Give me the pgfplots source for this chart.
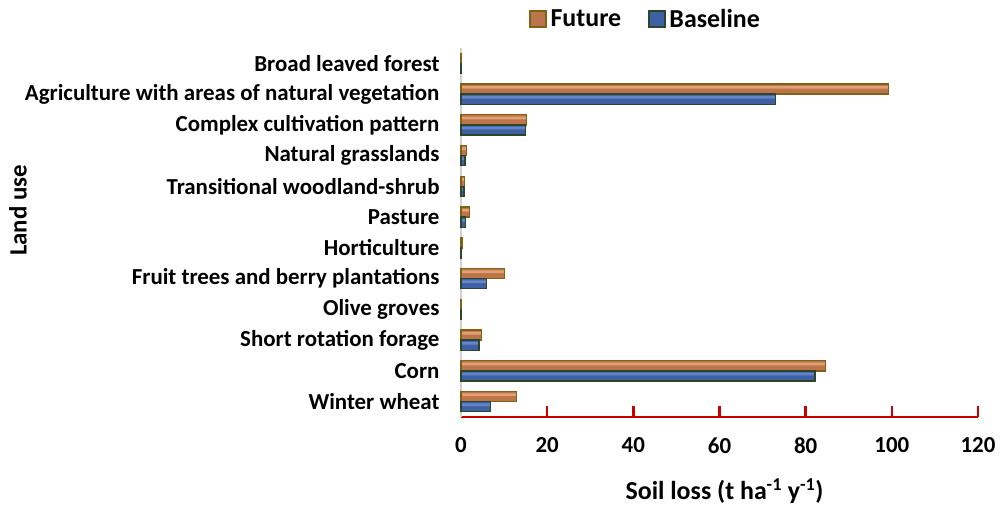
\documentclass[border=0pt]{standalone}
\usepackage{pgfplots}
\pgfplotsset{compat=1.18}
\usepackage{fontspec}
\setmainfont{Carlito}
\definecolor{futmid}{RGB}{188,116,74}
\definecolor{futlight}{RGB}{226,160,116}
\definecolor{futdraw}{RGB}{128,98,22}
\definecolor{basmid}{RGB}{64,96,164}
\definecolor{baslight}{RGB}{100,134,200}
\definecolor{basdraw}{RGB}{44,70,44}
\definecolor{axred}{RGB}{200,0,0}
\definecolor{axgray}{RGB}{210,210,210}
\pgfplotstableread{
y fut bas
0 12.9 6.9
1 84.6 82.2
2 4.7 4.2
3 0.15 0.1
4 10.1 6.0
5 0.4 0.15
6 2.0 1.0
7 0.8 0.7
8 1.3 0.9
9 15.2 15.0
10 99.3 73.0
11 0.1 0.05
}\datatable
\begin{document}
\begin{tikzpicture}
\begin{axis}[
  scale only axis,
  width=517bp, height=369bp,
  xmin=0, xmax=120, ymin=-0.5, ymax=11.5,
  xtick={0,20,...,120},
  ytick={0,...,11},
  yticklabels={Winter wheat,Corn,Short rotation forage,Olive groves,Fruit trees and berry plantations,Horticulture,Pasture,Transitional woodland-shrub,Natural grasslands,Complex cultivation pattern,Agriculture with areas of natural vegetation,Broad leaved forest},
  axis x line*=bottom,
  axis y line*=left,
  x axis line style={draw=axred, line width=2.5bp, -},
  y axis line style={draw=axgray, line width=1.2bp, -},
  xtick style={draw=axred, line width=2.4bp},
  ytick style={draw=none},
  tick align=inside,
  major tick length=11bp,
  /pgf/number format/assume math mode=true,
  ticklabel style={font=\fontsize{23}{27}\selectfont\bfseries},
  yticklabel style={xshift=-18bp},
  xticklabel style={yshift=-17bp},
  xlabel={Soil loss (t ha\textsuperscript{-1} y\textsuperscript{-1})},
  xlabel style={font=\fontsize{26}{31}\selectfont\bfseries, yshift=-18bp, xshift=5bp},
  ylabel={Land use},
  ylabel style={font=\fontsize{25}{30}\selectfont\bfseries, at={(axis description cs:-0.857,0.56)}, anchor=center, rotate=0},
  legend style={at={(0.357,1)}, anchor=south, yshift=15bp, draw=none, fill=none,
    legend columns=2, font=\fontsize{26}{31}\selectfont\bfseries,
    /tikz/every even column/.append style={column sep=25bp},
    /tikz/every odd column/.append style={column sep=2bp}},
  legend image code/.code={\draw[#1, line width=1.3bp] (0bp,-8bp) rectangle (16bp,8bp);},
  clip=false,
]
% Future
\addplot[xbar, bar width=0.33, bar shift=0.165, fill=futmid, draw=futdraw, line width=1.3bp] table[x=fut, y=y] {\datatable};
\addlegendentry{Future}
\addplot[xbar, forget plot, bar width=0.09, bar shift=0.225, fill=futlight, draw=none] table[x=fut, y=y] {\datatable};
\addplot[xbar, forget plot, bar width=0.33, bar shift=0.165, fill=none, draw=futdraw, line width=1.3bp] table[x=fut, y=y] {\datatable};
% Baseline
\addplot[xbar, bar width=0.33, bar shift=-0.165, fill=basmid, draw=basdraw, line width=1.3bp] table[x=bas, y=y] {\datatable};
\addlegendentry{Baseline}
\addplot[xbar, forget plot, bar width=0.09, bar shift=-0.105, fill=baslight, draw=none] table[x=bas, y=y] {\datatable};
\addplot[xbar, forget plot, bar width=0.33, bar shift=-0.165, fill=none, draw=basdraw, line width=1.3bp] table[x=bas, y=y] {\datatable};
\end{axis}
\pgfresetboundingbox
\path[use as bounding box] (-461bp,-88bp) rectangle (545bp,417bp);
\end{tikzpicture}
\end{document}
